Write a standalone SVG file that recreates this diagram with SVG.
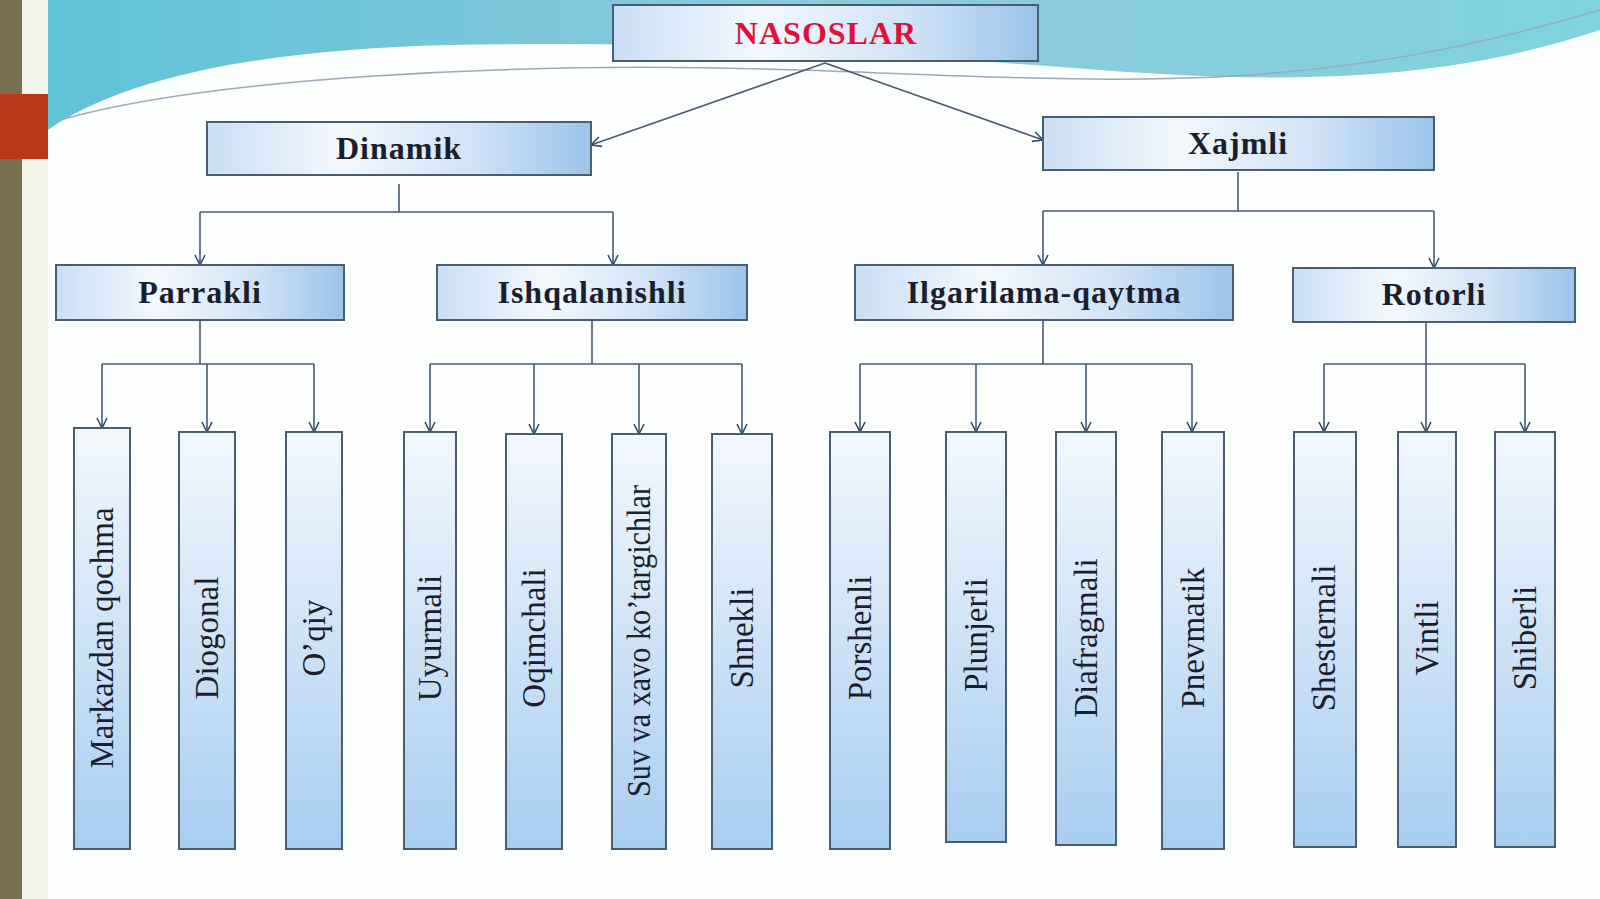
<svg xmlns="http://www.w3.org/2000/svg" width="1600" height="899" viewBox="0 0 1600 899">
<defs>
<linearGradient id="hg" x1="0" y1="0" x2="1" y2="0"><stop offset="0" stop-color="#c9dff5"/><stop offset="0.35" stop-color="#f4f8fd"/><stop offset="0.7" stop-color="#cfe2f6"/><stop offset="1" stop-color="#9cc3ea"/></linearGradient>
<linearGradient id="vg" x1="0" y1="0" x2="0" y2="1"><stop offset="0" stop-color="#f3f8fd"/><stop offset="1" stop-color="#a8cdf0"/></linearGradient>
<linearGradient id="sky" x1="0" y1="0" x2="1" y2="0"><stop offset="0" stop-color="#5fc3d8"/><stop offset="0.5" stop-color="#8ec8db"/><stop offset="1" stop-color="#7fd3dc"/></linearGradient>
<marker id="ah" viewBox="0 0 12 12" refX="11" refY="6" markerWidth="12" markerHeight="12" markerUnits="userSpaceOnUse" orient="auto"><path d="M1 1 L11 6 L1 11" fill="none" stroke="#2f4d6b" stroke-width="1.6"/></marker>
</defs>
<style>
.n rect{stroke:#4a5e72;stroke-width:2}
.h rect{fill:url(#hg)}
.v rect{fill:url(#vg)}
text{font-family:"Liberation Serif","DejaVu Serif",serif;fill:#1a1f2e}
.h text{font-size:32px;font-weight:bold;text-anchor:middle;letter-spacing:1px}
.v text{font-size:33px;text-anchor:middle}
#c path{fill:none;stroke:#455b70;stroke-width:1.6}
#c .a{marker-end:url(#ah)}
</style>
<rect width="1600" height="899" fill="#fdfefe"/>
<path d="M48 0 H1600 V30 C1450 80 1300 85 1100 70 C900 55 700 40 450 45 C250 50 120 80 48 130 Z" fill="url(#sky)"/>
<path d="M60 120 C200 80 500 60 800 70 C1100 80 1300 100 1600 10" fill="none" stroke="#9ab" stroke-width="1.5"/>
<rect x="0" y="0" width="22" height="899" fill="#7a6f50"/>
<rect x="22" y="0" width="26" height="899" fill="#f4f3ea"/>
<rect x="0" y="94" width="48" height="65" fill="#b8381a"/>
<g id="c">
<path class="a" d="M825 63 L591 145"/>
<path class="a" d="M825 63 L1043 140"/>
<path d="M399 184 V212 M200 212 H613"/>
<path class="a" d="M200 212 V265"/><path class="a" d="M613 212 V265"/>
<path d="M1238 172 V211 M1043 211 H1434"/>
<path class="a" d="M1043 211 V265"/><path class="a" d="M1434 211 V268"/>
<path d="M200 320 V364 M102 364 H314"/>
<path class="a" d="M102 364 V428"/><path class="a" d="M207 364 V432"/><path class="a" d="M314 364 V432"/>
<path d="M592 320 V364 M430 364 H742"/>
<path class="a" d="M430 364 V432"/><path class="a" d="M534 364 V434"/><path class="a" d="M639 364 V434"/><path class="a" d="M742 364 V434"/>
<path d="M1043 320 V364 M860 364 H1192"/>
<path class="a" d="M860 364 V432"/><path class="a" d="M976 364 V432"/><path class="a" d="M1086 364 V432"/><path class="a" d="M1192 364 V432"/>
<path d="M1426 322 V364 M1324 364 H1525"/>
<path class="a" d="M1324 364 V432"/><path class="a" d="M1426 364 V432"/><path class="a" d="M1525 364 V432"/>
</g>
<g id="nasoslar" class="n h"><rect x="613" y="5" width="425" height="56"/><text x="826" y="44" style="fill:#e0103a">NASOSLAR</text></g>
<g id="dinamik" class="n h"><rect x="207" y="122" width="384" height="53"/><text x="399" y="159">Dinamik</text></g>
<g id="xajmli" class="n h"><rect x="1043" y="117" width="391" height="53"/><text x="1238" y="154">Xajmli</text></g>
<g id="parrakli" class="n h"><rect x="56" y="265" width="288" height="55"/><text x="200" y="303">Parrakli</text></g>
<g id="ishqalanishli" class="n h"><rect x="437" y="265" width="310" height="55"/><text x="592" y="303">Ishqalanishli</text></g>
<g id="ilgarilama" class="n h"><rect x="855" y="265" width="378" height="55"/><text x="1044" y="303">Ilgarilama-qaytma</text></g>
<g id="rotorli" class="n h"><rect x="1293" y="268" width="282" height="54"/><text x="1434" y="305">Rotorli</text></g>
<g id="markazdan" class="n v"><rect x="74" y="428" width="56" height="421"/><text transform="translate(113,638) rotate(-90)">Markazdan qochma</text></g>
<g id="diogonal" class="n v"><rect x="179" y="432" width="56" height="417"/><text transform="translate(218,638) rotate(-90)">Diogonal</text></g>
<g id="oqiy" class="n v"><rect x="286" y="432" width="56" height="417"/><text transform="translate(325,638) rotate(-90)">O’qiy</text></g>
<g id="uyurmali" class="n v"><rect x="404" y="432" width="52" height="417"/><text transform="translate(441,638) rotate(-90)">Uyurmali</text></g>
<g id="oqimchali" class="n v"><rect x="506" y="434" width="56" height="415"/><text transform="translate(545,638) rotate(-90)">Oqimchali</text></g>
<g id="suv" class="n v"><rect x="612" y="434" width="54" height="415"/><text transform="translate(650,641) rotate(-90)" textLength="312" lengthAdjust="spacingAndGlyphs">Suv va xavo ko’targichlar</text></g>
<g id="shnekli" class="n v"><rect x="712" y="434" width="60" height="415"/><text transform="translate(753,638) rotate(-90)">Shnekli</text></g>
<g id="porshenli" class="n v"><rect x="830" y="432" width="60" height="417"/><text transform="translate(871,638) rotate(-90)">Porshenli</text></g>
<g id="plunjerli" class="n v"><rect x="946" y="432" width="60" height="410"/><text transform="translate(987,635) rotate(-90)">Plunjerli</text></g>
<g id="diafragmali" class="n v"><rect x="1056" y="432" width="60" height="413"/><text transform="translate(1097,638) rotate(-90)">Diafragmali</text></g>
<g id="pnevmatik" class="n v"><rect x="1162" y="432" width="62" height="417"/><text transform="translate(1204,638) rotate(-90)">Pnevmatik</text></g>
<g id="shesternali" class="n v"><rect x="1294" y="432" width="62" height="415"/><text transform="translate(1335,638) rotate(-90)">Shesternali</text></g>
<g id="vintli" class="n v"><rect x="1398" y="432" width="58" height="415"/><text transform="translate(1438,638) rotate(-90)">Vintli</text></g>
<g id="shiberli" class="n v"><rect x="1495" y="432" width="60" height="415"/><text transform="translate(1536,638) rotate(-90)">Shiberli</text></g>
</svg>
